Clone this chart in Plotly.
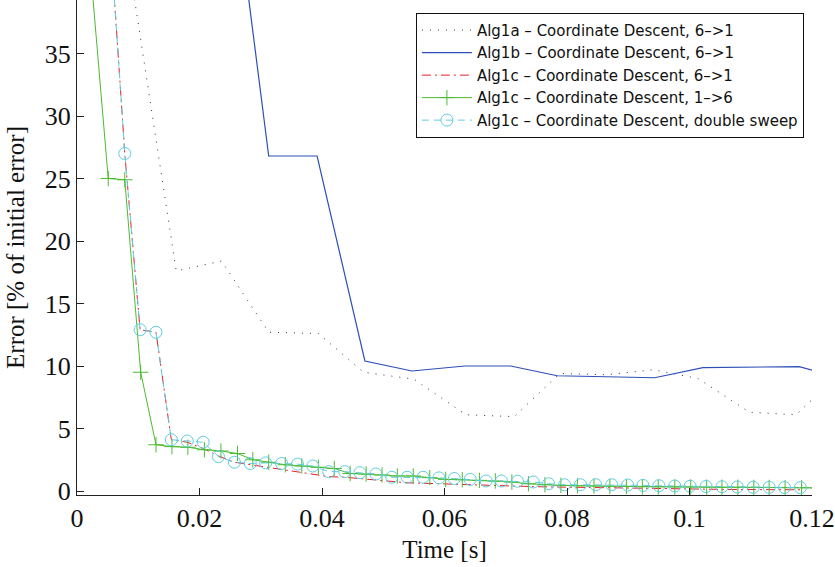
import plotly.graph_objects as go

# ---------------- data ----------------
alg1a_t = [0.0084, 0.0162, 0.0236, 0.0313, 0.0394, 0.0468, 0.0550, 0.0635, 0.0714,
           0.0788, 0.0865, 0.0941, 0.1014, 0.1098, 0.1174, 0.1250]
alg1a_err = [42.5, 17.6, 18.4, 12.7, 12.6, 9.5, 8.95, 6.1, 5.95,
             9.4, 9.3, 9.7, 9.0, 6.3, 6.1, 9.6]

alg1b_t = [0.0235, 0.0313, 0.0392, 0.0470, 0.0547, 0.0633, 0.0708, 0.0784, 0.0943,
           0.1022, 0.1179, 0.1257]
alg1b_err = [56.8, 26.8, 26.8, 10.4, 9.6, 10.0, 10.0, 9.22, 9.06, 9.87, 9.95, 8.9]

alg1c_t = [0.0052, 0.0078, 0.0103, 0.0129, 0.0154, 0.0180, 0.0206, 0.0231, 0.0257, 0.0283,
           0.0308, 0.0334, 0.0360, 0.0385, 0.0411, 0.0437, 0.0462, 0.0488, 0.0514, 0.0539,
           0.0565, 0.0591, 0.0616, 0.0642, 0.0668, 0.0693, 0.0719, 0.0745, 0.0770, 0.0796,
           0.0822, 0.0847, 0.0873, 0.0899, 0.0924, 0.0950, 0.0976, 0.1001, 0.1027, 0.1053,
           0.1078, 0.1104, 0.1130, 0.1155, 0.1181]
alg1c_err = [46, 27.0, 12.9, 12.7, 4.1, 3.9, 3.4, 2.8, 2.3, 2.1,
             1.9, 1.7, 1.5, 1.35, 1.15, 1.1, 1.0, 0.85, 0.75, 0.66,
             0.62, 0.58, 0.52, 0.45, 0.42, 0.39, 0.37, 0.35, 0.33, 0.31,
             0.27, 0.25, 0.23, 0.2, 0.17, 0.16, 0.15, 0.14, 0.13, 0.13,
             0.12, 0.12, 0.11, 0.11, 0.1]

alg1c_up_t = [0.0025, 0.0051, 0.0078, 0.0104, 0.0129, 0.0155, 0.0181, 0.0208, 0.0235, 0.0262,
              0.0287, 0.0313, 0.0340, 0.0367, 0.0394, 0.0420, 0.0446, 0.0472, 0.0498, 0.0523,
              0.0549, 0.0576, 0.0602, 0.0629, 0.0657, 0.0683, 0.0710, 0.0737, 0.0764, 0.0790,
              0.0817, 0.0844, 0.0870, 0.0897, 0.0923, 0.0949, 0.0976, 0.1002, 0.1028, 0.1053,
              0.1079, 0.1105, 0.1130, 0.1156, 0.1183, 0.1209]
alg1c_up_err = [40, 25.0, 24.9, 9.5, 3.7, 3.55, 3.5, 3.3, 3.2, 3.0,
                2.5, 2.3, 2.1, 2.0, 1.9, 1.8, 1.4, 1.36, 1.28, 1.2,
                1.2, 1.07, 0.93, 0.9, 0.85, 0.8, 0.72, 0.58, 0.5, 0.45,
                0.42, 0.4, 0.38, 0.36, 0.34, 0.33, 0.32, 0.32, 0.31, 0.3,
                0.3, 0.29, 0.28, 0.27, 0.26, 0.25]

alg1c_ds_err = [46, 27.0, 12.9, 12.7, 4.1, 4.0, 3.9, 2.75, 2.3, 2.2,
                2.25, 2.2, 2.15, 2.0, 1.55, 1.55, 1.47, 1.36, 1.1, 1.1,
                1.1, 1.05, 1.0, 0.93, 0.8, 0.8, 0.78, 0.72, 0.58, 0.5,
                0.5, 0.5, 0.5, 0.48, 0.45, 0.42, 0.4, 0.38, 0.36, 0.34,
                0.32, 0.3, 0.29, 0.28, 0.27]

names = ["Alg1a – Coordinate Descent, 6–>1",
         "Alg1b – Coordinate Descent, 6–>1",
         "Alg1c – Coordinate Descent, 6–>1",
         "Alg1c – Coordinate Descent, 1–>6",
         "Alg1c – Coordinate Descent, double sweep"]

x_ticks = [0, 0.02, 0.04, 0.06, 0.08, 0.1, 0.12]
x_ticktext = ["0", "0.02", "0.04", "0.06", "0.08", "0.1", "0.12"]
y_ticks = [0, 5, 10, 15, 20, 25, 30, 35]

# ---------------- figure ----------------
fig = go.Figure()
fig.add_trace(go.Scatter(x=alg1a_t, y=alg1a_err, mode="lines", name=names[0],
                         line=dict(color="#333333", width=1, dash="1px,7px")))
fig.add_trace(go.Scatter(x=alg1b_t, y=alg1b_err, mode="lines", name=names[1],
                         line=dict(color="#2d4fb8", width=1.2)))
fig.add_trace(go.Scatter(x=alg1c_t, y=alg1c_err, mode="lines", name=names[2],
                         line=dict(color="#e8202a", width=1, dash="9px,4px,2px,4px")))
fig.add_trace(go.Scatter(x=alg1c_up_t, y=alg1c_up_err, mode="lines+markers", name=names[3],
                         line=dict(color="#4cbb30", width=1),
                         marker=dict(symbol="cross-thin", size=11,
                                     line=dict(color="#4cbb30", width=1))))
fig.add_trace(go.Scatter(x=alg1c_t, y=alg1c_ds_err, mode="lines+markers", name=names[4],
                         line=dict(color="#5fcde0", width=1, dash="7px,5px"),
                         marker=dict(symbol="circle-open", size=12, color="#5fcde0",
                                     line=dict(color="#5fcde0", width=1))))

serif = "Liberation Serif, Times New Roman, serif"
tick_font = dict(family=serif, size=26, color="#111")
title_font = dict(family=serif, size=25, color="#111")
fig.update_layout(
    width=835, height=567,
    margin=dict(l=77, r=19, t=0, b=72),
    paper_bgcolor="white", plot_bgcolor="white",
    showlegend=True,
    legend=dict(x=0.989, y=0.974, xanchor="right", yanchor="top",
                bgcolor="white", bordercolor="#111", borderwidth=1,
                font=dict(family="DejaVu Sans, sans-serif", size=15, color="#111"),
                itemwidth=50, tracegroupgap=0),
    xaxis=dict(range=[0, 0.12], tickvals=x_ticks, ticktext=x_ticktext,
               ticks="inside", ticklen=7, tickcolor="#222", showgrid=False, zeroline=False,
               showline=True, linecolor="#222", linewidth=1.2,
               tickfont=tick_font, ticklabeloverflow="allow",
               title=dict(text="Time [s]", font=title_font, standoff=8)),
    yaxis=dict(range=[-0.32, 39.28], tickvals=y_ticks,
               ticks="inside", ticklen=7, tickcolor="#222", showgrid=False, zeroline=False,
               showline=True, linecolor="#222", linewidth=1.2,
               tickfont=tick_font,
               title=dict(text="Error [% of initial error]", font=title_font, standoff=12)),
)

fig.write_html("out.html")
